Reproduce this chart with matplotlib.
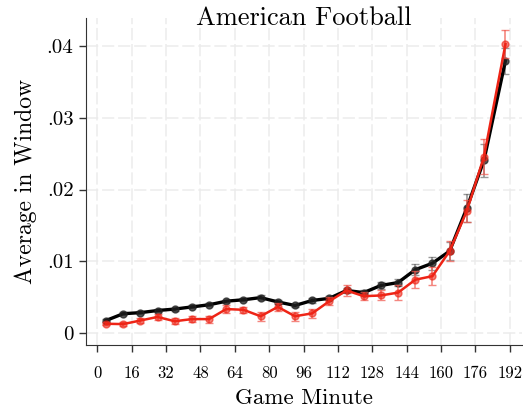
import matplotlib
matplotlib.use("Agg")
import matplotlib.pyplot as plt
import numpy as np

plt.rcParams['font.family'] = 'serif'
plt.rcParams['font.serif'] = ['cmr10', 'DejaVu Serif']
plt.rcParams['axes.formatter.use_mathtext'] = True

# window centres (game minute) and the two series with their error bars
minutes = [4, 12, 20, 28, 36, 44, 52, 60, 68, 76, 84, 92,
           100, 108, 116, 124, 132, 140, 148, 156, 164, 172, 180, 190]
black_avg = [0.0017, 0.00265, 0.0028, 0.0031, 0.0033, 0.0036, 0.0039, 0.0044,
             0.0046, 0.0049, 0.0043, 0.0038, 0.0045, 0.0048, 0.0059, 0.0056,
             0.0066, 0.0070, 0.0088, 0.0097, 0.0114, 0.0174, 0.0241, 0.0380]
black_err = [0.0002, 0.0002, 0.0002, 0.0002, 0.0002, 0.0002, 0.0002, 0.0002,
             0.0002, 0.0003, 0.0003, 0.0002, 0.0003, 0.0003, 0.0004, 0.0004,
             0.0005, 0.0005, 0.0008, 0.0009, 0.0013, 0.0020, 0.0023, 0.0018]
red_avg = [0.00125, 0.0012, 0.0017, 0.0022, 0.0016, 0.0019, 0.0019, 0.0033,
           0.0032, 0.0023, 0.0036, 0.0023, 0.0027, 0.0044, 0.0059, 0.0051,
           0.0052, 0.0056, 0.0074, 0.0079, 0.0114, 0.0170, 0.0246, 0.0403]
red_err = [0.0002, 0.0003, 0.0003, 0.0004, 0.0004, 0.0004, 0.0005, 0.0005,
           0.0004, 0.0006, 0.0005, 0.0006, 0.0006, 0.0006, 0.0008, 0.0006,
           0.0007, 0.0010, 0.0012, 0.0013, 0.0014, 0.0016, 0.0024, 0.0020]

x_ticks = [0, 16, 32, 48, 64, 80, 96, 112, 128, 144, 160, 176, 192]
y_ticks = [0, 0.01, 0.02, 0.03, 0.04]
y_labels = ['0', '.01', '.02', '.03', '.04']

fig = plt.figure(figsize=(5.23, 4.07), dpi=100)
ax = fig.add_axes([0.1644, 0.1523, 0.8337, 0.8034])

ax.grid(True, color='#ececec', linestyle=(0, (8, 2.5)), linewidth=1.1)
ax.set_axisbelow(True)

ax.errorbar(minutes, black_avg, yerr=black_err, fmt='none', ecolor='#555555',
            elinewidth=1.2, capsize=3, alpha=0.6, zorder=2)
ax.plot(minutes, black_avg, color='black', linewidth=2.4, zorder=3)
ax.plot(minutes, black_avg, 'o', color='#222222', markersize=5, alpha=0.75,
        zorder=4)

ax.errorbar(minutes, red_avg, yerr=red_err, fmt='none', ecolor='#f0554a',
            elinewidth=1.2, capsize=3, alpha=0.7, zorder=5)
ax.plot(minutes, red_avg, color='#ee2416', linewidth=1.8, zorder=6)
ax.plot(minutes, red_avg, 'o', color='#ee2416', markersize=5, alpha=0.6,
        zorder=7)

ax.set_xlim(-5.3, 197.7)
ax.set_ylim(-0.00172, 0.04395)
ax.set_xticks(x_ticks)
ax.set_xticklabels([str(t) for t in x_ticks], fontsize=12)
ax.set_yticks(y_ticks)
ax.set_yticklabels(y_labels, fontsize=15)
ax.tick_params(direction='out', length=5, width=1, color='#333333')
ax.tick_params(axis='x', pad=10)
ax.tick_params(axis='y', pad=4)

for side in ['top', 'right']:
    ax.spines[side].set_visible(False)
for side in ['left', 'bottom']:
    ax.spines[side].set_color('#333333')

fig.text(0.581, 0.9386, 'American Football', fontsize=19, ha='center',
         va='baseline')
ax.set_xlabel('Game Minute', fontsize=16.5, labelpad=5)
ax.set_ylabel('Average in Window', fontsize=17, labelpad=7)

fig.savefig('out.png', dpi=100)
